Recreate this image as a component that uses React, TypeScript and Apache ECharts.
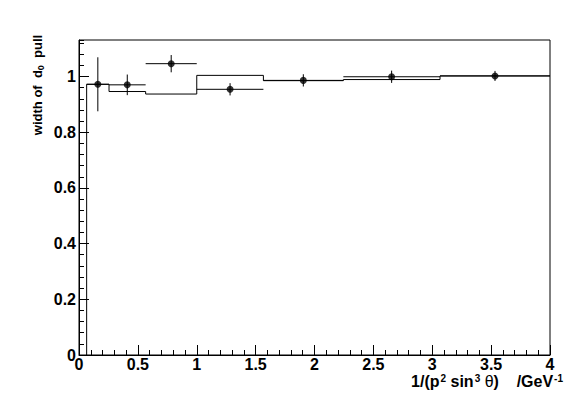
import React, { useEffect, useRef } from "react";
import * as echarts from "echarts";

// Histogram (step line): bin edges and contents
const binEdges = [0.065, 0.255, 0.566, 1.0, 1.566, 2.245, 3.066, 4.0];
const histValues = [0.972, 0.946, 0.937, 1.004, 0.985, 0.989, 1.002];

// Data points with errors
const pointX = [0.16, 0.41, 0.783, 1.283, 1.905, 2.655, 3.533];
const pointY = [0.972, 0.97, 1.046, 0.954, 0.986, 0.999, 1.002];
const pointYErr = [0.097, 0.037, 0.031, 0.022, 0.022, 0.022, 0.018];

// Tick labels
const xTickLabels = ["0", "0.5", "1", "1.5", "2", "2.5", "3", "3.5", "4"];
const yTickLabels = ["0", "0.2", "0.4", "0.6", "0.8", "1"];

const FONT = "'Liberation Sans', Arial, Helvetica, sans-serif";

export default function App() {
  const ref = useRef<HTMLDivElement>(null);

  useEffect(() => {
    if (!ref.current) return;
    const chart = echarts.init(ref.current, undefined, { renderer: "svg" });

    const stepPts: number[][] = [[binEdges[0], 0]];
    histValues.forEach((v, i) => {
      stepPts.push([binEdges[i], v]);
      stepPts.push([binEdges[i + 1], v]);
    });

    const errData = pointX.map((x, i) => [
      x,
      pointY[i],
      binEdges[i],
      binEdges[i + 1],
      pointYErr[i],
    ]);

    const labelStyle = {
      color: "#000",
      fontFamily: FONT,
      fontWeight: "bold" as const,
      fontSize: 16,
      lineHeight: 14,
    };

    const yMax = 1.131;

    chart.setOption({
      animation: false,
      backgroundColor: "#fff",
      grid: {
        left: 79,
        right: 17,
        top: 40,
        bottom: 56,
        show: true,
        borderColor: "#000",
        borderWidth: 1,
        backgroundColor: "transparent",
      },
      xAxis: {
        type: "value",
        min: 0,
        max: 4,
        interval: 0.5,
        axisLine: { show: true, lineStyle: { color: "#000", width: 1 } },
        axisTick: { show: true, inside: true, length: 10, lineStyle: { color: "#000" } },
        minorTick: { show: true, splitNumber: 5, length: 5, lineStyle: { color: "#000" } },
        splitLine: { show: false },
        minorSplitLine: { show: false },
        axisLabel: {
          ...labelStyle,
          margin: 2,
          formatter: (v: number) => {
            const i = Math.round(v / 0.5);
            return Math.abs(v - i * 0.5) < 1e-6 ? xTickLabels[i] ?? "" : "";
          },
        },
      },
      yAxis: [
        {
          type: "value",
          min: 0,
          max: yMax,
          interval: 0.2,
          position: "left",
          axisLine: { show: true, lineStyle: { color: "#000", width: 1 } },
          axisTick: { show: true, inside: true, length: 10, lineStyle: { color: "#000" } },
          splitLine: { show: false },
          axisLabel: {
            ...labelStyle,
            margin: 3,
            showMaxLabel: false,
            formatter: (v: number) => {
              const i = Math.round(v / 0.2);
              return Math.abs(v - i * 0.2) < 1e-6 ? yTickLabels[i] ?? "" : "";
            },
          },
        },
        {
          type: "value",
          min: 0,
          max: yMax,
          interval: 0.04,
          position: "left",
          axisLine: { show: false },
          axisTick: { show: true, inside: true, length: 5, lineStyle: { color: "#000" } },
          splitLine: { show: false },
          axisLabel: { show: false },
        },
      ],
      graphic: [
        {
          type: "text",
          x: 37,
          y: 85,
          rotation: Math.PI / 2,
          style: {
            text: "{a|width of  d}{s|0}{a|  pull}",
            align: "center",
            verticalAlign: "middle",
            fill: "#000",
            rich: {
              a: { fontFamily: FONT, fontWeight: "bold", fontSize: 13, lineHeight: 16, fill: "#000" },
              s: {
                fontFamily: FONT,
                fontWeight: "bold",
                fontSize: 9,
                lineHeight: 8,
                verticalAlign: "bottom",
                fill: "#000",
              },
            },
          },
        },
        {
          type: "text",
          x: 563,
          y: 381,
          style: {
            text: "{a|1/(p}{p|2}{a| sin}{p|3}{t| θ}{a|)    /GeV}{p|-1}",
            align: "right",
            verticalAlign: "middle",
            fill: "#000",
            rich: {
              a: { fontFamily: FONT, fontWeight: "bold", fontSize: 16, lineHeight: 16, verticalAlign: "bottom", fill: "#000" },
              t: { fontFamily: FONT, fontWeight: "normal", fontSize: 16, lineHeight: 16, verticalAlign: "bottom", fill: "#000" },
              p: {
                fontFamily: FONT,
                fontWeight: "bold",
                fontSize: 10,
                lineHeight: 8,
                padding: [0, 0, 10, 1],
                verticalAlign: "top",
                fill: "#000",
              },
            },
          },
        },
      ],
      series: [
        {
          type: "line",
          data: stepPts,
          symbol: "none",
          silent: true,
          lineStyle: { color: "#000", width: 1 },
          z: 2,
        },
        {
          type: "custom",
          data: errData,
          encode: { x: 0, y: 1 },
          silent: true,
          z: 3,
          renderItem: (params: any, api: any) => {
            const x = api.value(0);
            const y = api.value(1);
            const xlo = api.value(2);
            const xhi = api.value(3);
            const e = api.value(4);
            const pL = api.coord([xlo, y]);
            const pR = api.coord([xhi, y]);
            const pT = api.coord([x, y + e]);
            const pB = api.coord([x, y - e]);
            const st = { stroke: "#000", lineWidth: 1 };
            return {
              type: "group",
              children: [
                { type: "line", shape: { x1: pL[0], y1: pL[1], x2: pR[0], y2: pR[1] }, style: st },
                { type: "line", shape: { x1: pT[0], y1: pT[1], x2: pB[0], y2: pB[1] }, style: st },
              ],
            };
          },
        },
        {
          type: "scatter",
          data: pointX.map((x, i) => [x, pointY[i]]),
          symbol: "circle",
          symbolSize: 7,
          silent: true,
          itemStyle: { color: "#000" },
          z: 4,
        },
      ],
    });

    return () => chart.dispose();
  }, []);

  return (
    <div
      ref={ref}
      style={{ position: "fixed", left: 0, top: 0, width: 567, height: 411, background: "#fff" }}
    />
  );
}
